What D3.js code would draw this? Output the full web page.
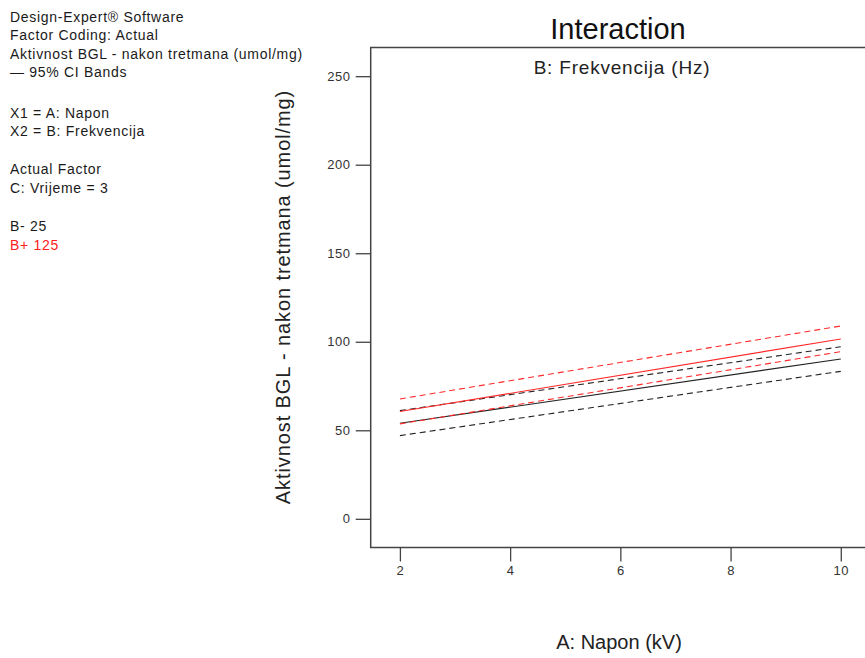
<!DOCTYPE html>
<html>
<head>
<meta charset="utf-8">
<script src="https://cdn.jsdelivr.net/npm/d3@7"></script>
<style>
  html, body { margin: 0; padding: 0; background: #fff; }
  svg { display: block; font-family: "Liberation Sans", Arial, sans-serif; }
</style>
</head>
<body>
<svg id="chart" width="865" height="658"></svg>
<script>
// ---- data ----
const xValues = [2, 10];                    // A: Napon (kV) endpoints
const bLowMean  = [54.0, 90.3];             // B- 25 prediction
const bLowUpper = [61.1, 97.2];             // B- 25 upper 95% CI
const bLowLower = [47.0, 83.3];             // B- 25 lower 95% CI
const bHighMean  = [60.6, 101.6];           // B+ 125 prediction
const bHighUpper = [67.7, 108.9];           // B+ 125 upper 95% CI
const bHighLower = [53.6, 94.4];            // B+ 125 lower 95% CI
const xTicks = [2, 4, 6, 8, 10];
const yTicks = [0, 50, 100, 150, 200, 250];
const legendLines = [
  "Design-Expert\u00AE Software",
  "Factor Coding: Actual",
  "Aktivnost BGL - nakon tretmana (umol/mg)",
  "\u2014 95% CI Bands",
  "X1 = A: Napon",
  "X2 = B: Frekvencija",
  "Actual Factor",
  "C: Vrijeme = 3",
  "B- 25",
  "B+ 125"
];

// ---- layout ----
const svg = d3.select("#chart");
const plot = { left: 370.7, right: 870, top: 47.5, bottom: 547.5 };
const x = d3.scaleLinear().domain([1.47, 10.53]).range([plot.left, plot.right]);
const y = d3.scaleLinear().domain([-16.2, 266.2]).range([plot.bottom, plot.top]);

// legend text
const legendY = [21.5, 40, 58.5, 77, 118, 136, 174, 192.5, 231, 249.5];
svg.append("g").selectAll("text").data(legendLines).join("text")
  .attr("x", 10)
  .attr("y", (d, i) => legendY[i])
  .attr("font-size", 14)
  .attr("letter-spacing", 0.7)
  .attr("fill", (d, i) => i === 9 ? "#ff2020" : "#1a1a1a")
  .text(d => d);

// frame
svg.append("rect")
  .attr("x", plot.left).attr("y", plot.top)
  .attr("width", plot.right - plot.left).attr("height", plot.bottom - plot.top)
  .attr("fill", "none").attr("stroke", "#444").attr("stroke-width", 1.5);

// axes
const yAxis = d3.axisLeft(y).tickValues(yTicks).tickSize(15).tickPadding(5).tickFormat(d3.format("d"));
const yG = svg.append("g").attr("transform", `translate(${plot.left},0)`).call(yAxis);
const xAxis = d3.axisBottom(x).tickValues(xTicks).tickSize(14).tickPadding(4).tickFormat(d3.format("d"));
const xG = svg.append("g").attr("transform", `translate(0,${plot.bottom})`).call(xAxis);
[yG, xG].forEach(g => {
  g.select(".domain").remove();
  g.selectAll(".tick line").attr("stroke", "#444").attr("stroke-width", 1.3);
  g.selectAll(".tick text").attr("fill", "#333").attr("font-size", 13)
    .attr("letter-spacing", 0.6)
    .attr("font-family", "'Liberation Sans', Arial, sans-serif");
});

// lines
const line = d3.line().x(d => x(d[0])).y(d => y(d[1]));
const series = [
  { v: bLowLower, color: "#222", dash: "6,4" },
  { v: bLowUpper, color: "#222", dash: "6,4" },
  { v: bLowMean,  color: "#222", dash: null },
  { v: bHighLower, color: "#ff2a2a", dash: "6,4" },
  { v: bHighUpper, color: "#ff2a2a", dash: "6,4" },
  { v: bHighMean,  color: "#ff2a2a", dash: null }
];
svg.append("g").selectAll("path").data(series).join("path")
  .attr("d", s => line(xValues.map((xv, i) => [xv, s.v[i]])))
  .attr("fill", "none")
  .attr("stroke", s => s.color)
  .attr("stroke-width", 1.1)
  .attr("stroke-dasharray", s => s.dash);

// titles
svg.append("text").attr("x", 618).attr("y", 39).attr("text-anchor", "middle")
  .attr("font-size", 29).attr("fill", "#111").text("Interaction");
svg.append("text").attr("x", 622).attr("y", 73.5).attr("text-anchor", "middle")
  .attr("font-size", 19).attr("letter-spacing", 0.8).attr("fill", "#222").text("B: Frekvencija (Hz)");
svg.append("text").attr("x", 619).attr("y", 649).attr("text-anchor", "middle")
  .attr("font-size", 20).attr("fill", "#222").text("A: Napon (kV)");
svg.append("text")
  .attr("transform", "translate(290,297) rotate(-90)")
  .attr("text-anchor", "middle")
  .attr("font-size", 20).attr("letter-spacing", 0.9).attr("fill", "#222")
  .text("Aktivnost BGL - nakon tretmana (umol/mg)");
</script>
</body>
</html>
